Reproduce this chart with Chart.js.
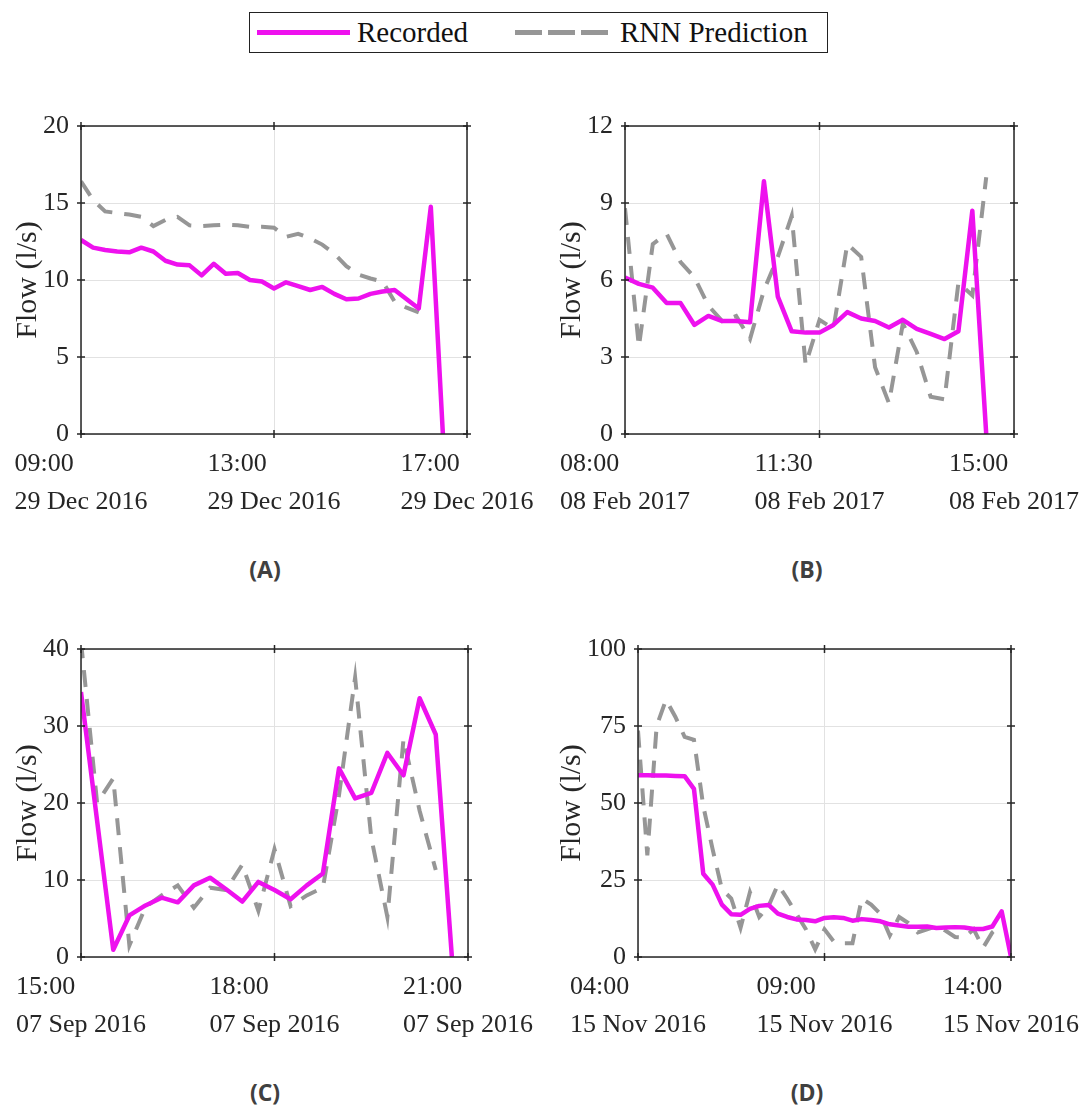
<!DOCTYPE html>
<html>
<head>
<meta charset="utf-8">
<script src="https://cdn.jsdelivr.net/npm/chart.js@4.4.1/dist/chart.umd.min.js"></script>
<style>
  html, body { margin: 0; padding: 0; background: #fff; width: 1091px; height: 1106px; overflow: hidden; }
  body { position: relative; }
  canvas { position: absolute; }
  .tag { position: absolute; width: 80px; text-align: center; font: bold 23px "Open Sans", sans-serif; line-height: 26px; color: #404040; }
  #legend { position: absolute; left: 249px; top: 12px; width: 577px; height: 39px; border: 1.5px solid #222;
            font: 29px "Liberation Serif", "Times New Roman", serif; color: #111; }
  #legend .sw { position: absolute; top: 17px; height: 5px; width: 93px; }
  #legend .lbl { position: absolute; top: 0; line-height: 39px; white-space: nowrap; }
</style>
</head>
<body>
<div id="legend">
  <div class="sw" style="left:7px;background:#ee11ee"></div>
  <span class="lbl" style="left:107px">Recorded</span>
  <div class="sw" style="left:265px;background:repeating-linear-gradient(to right,#969696 0 27px,transparent 27px 33px)"></div>
  <span class="lbl" style="left:370px">RNN Prediction</span>
</div>

<canvas id="chartA" width="620" height="450" style="left:0;top:90px"></canvas>
<canvas id="chartB" width="620" height="450" style="left:544px;top:90px"></canvas>
<canvas id="chartC" width="620" height="450" style="left:0;top:613px"></canvas>
<canvas id="chartD" width="620" height="450" style="left:544px;top:613px"></canvas>

<div class="tag" style="left:225px;top:556px">(A)</div>
<div class="tag" style="left:767px;top:556px">(B)</div>
<div class="tag" style="left:225px;top:1079px">(C)</div>
<div class="tag" style="left:767px;top:1079px">(D)</div>

<script>
// --- (A) 29 Dec 2016, 15-min samples ---
const timesA = ['09:00','09:15','09:30','09:45','10:00','10:15','10:30','10:45','11:00','11:15','11:30','11:45',
  '12:00','12:15','12:30','12:45','13:00','13:15','13:30','13:45','14:00','14:15','14:30','14:45',
  '15:00','15:15','15:30','15:45','16:00','16:15','16:30'];
const recordedA = [12.6, 12.1, 11.95, 11.85, 11.8, 12.1, 11.85, 11.25, 11.0, 10.95, 10.3, 11.05,
  10.4, 10.45, 10.0, 9.9, 9.45, 9.85, 9.6, 9.35, 9.55, 9.1, 8.75, 8.8,
  9.1, 9.25, 9.35, 8.75, 8.15, 14.75, 0];
const predictedA = [16.4, 15.2, 14.45, 14.35, 14.25, 14.1, 13.5, 13.9, 14.1, 13.55, 13.5, 13.55,
  13.6, 13.55, 13.45, 13.45, 13.4, 12.8, 13.0, 12.7, 12.3, 11.7, 10.9, 10.35,
  10.1, 9.9, 8.6, 8.2, 7.9];

// --- (B) 08 Feb 2017 ---
const timesB = ['08:00','08:15','08:30','08:45','09:00','09:15','09:30','09:45','10:00','10:15','10:30','10:45',
  '11:00','11:15','11:30','11:45','12:00','12:15','12:30','12:45','13:00','13:15','13:30','13:45',
  '14:00','14:15','14:30'];
const recordedB = [6.1, 5.85, 5.7, 5.1, 5.1, 4.25, 4.6, 4.4, 4.4, 4.35, 9.85, 5.35,
  4.0, 3.95, 3.95, 4.25, 4.75, 4.5, 4.4, 4.15, 4.45, 4.1, 3.9, 3.7,
  4.0, 8.7, 0];
const predictedB = [8.8, 3.4, 7.4, 7.8, 6.7, 6.1, 5.0, 4.4, 4.6, 3.7, 5.6, 6.9,
  8.5, 2.7, 4.45, 4.1, 7.4, 6.9, 2.6, 1.2, 4.3, 3.2, 1.45, 1.35,
  5.9, 5.4, 10.0];

// --- (C) 07 Sep 2016 ---
const timesC = ['15:00','15:15','15:30','15:45','16:00','16:15','16:30','16:45','17:00','17:15','17:30','17:45',
  '18:00','18:15','18:30','18:45','19:00','19:15','19:30','19:45','20:00','20:15','20:30','20:45'];
const recordedC = [34.4, null, 0.95, 5.4, 6.7, 7.7, 7.1, 9.3, 10.3, 8.8, 7.2, 9.75,
  8.7, 7.5, 9.3, 10.85, 24.5, 20.6, 21.3, 26.5, 23.6, 33.6, 28.9, 0];
const predictedC = [41, 20, 23.2, 1.5, 6.5, 8.0, 9.3, 6.4, 9.0, 8.7, 12.0, 6.0,
  14.0, 6.6, 8.0, 9.0, 21, 36.3, 15.5, 5.2, 28.3, 19, 11.3];

// --- (D) 15 Nov 2016 ---
const timesD = ['04:00','04:15','04:30','04:45','05:00','05:15','05:30','05:45','06:00','06:15','06:30','06:45',
  '07:00','07:15','07:30','07:45','08:00','08:15','08:30','08:45','09:00','09:15','09:30','09:45',
  '10:00','10:15','10:30','10:45','11:00','11:15','11:30','11:45','12:00','12:15','12:30','12:45',
  '13:00','13:15','13:30','13:45','14:00'];
const recordedD = [59.0, 59.0, 58.9, 58.9, 58.8, 58.7, 54.6, 27.0, 23.5, 17.0, 13.9, 13.7,
  15.6, 16.6, 16.9, 14.1, 13.0, 12.2, 12.0, 11.6, 12.7, 12.9, 12.7, 11.8,
  12.3, 12.0, 11.6, 10.6, 10.2, 9.8, 9.8, 9.9, 9.4, 9.6, 9.7, 9.6,
  9.1, 9.1, 9.9, 14.8, 0];
const predictedD = [73.5, 33, 75, 83.5, 78, 71.5, 70.5, 49, 35, 22, 19, 9.5,
  21, 13, 16.5, 23.5, 19, 14, 9, 2.5, 9, 5, 4.5, 4.5,
  19, 17, 14, 7, 13, 11, 8, 9, 10, 8.5, 6.5, 6.3,
  9, 3, 8, 10.5];

const SERIF = '"Liberation Serif", "Times New Roman", serif';
const INK = '#262626';
const TICK_SIZE = 26;

const toHours = t => { const [h, m] = t.split(':').map(Number); return h + m / 60; };
const pad2 = n => String(n).padStart(2, '0');

// box around the plot with small ticks crossing every side (matlab look)
const framePlugin = {
  id: 'frame',
  afterDraw(chart) {
    const { ctx, chartArea: a, scales: { x, y } } = chart;
    ctx.save();
    ctx.strokeStyle = INK;
    ctx.lineWidth = 1.5;
    ctx.strokeRect(a.left, a.top, a.right - a.left, a.bottom - a.top);
    ctx.beginPath();
    x.ticks.forEach(t => {
      const px = x.getPixelForValue(t.value);
      ctx.moveTo(px, a.bottom - 4); ctx.lineTo(px, a.bottom + 4);
      ctx.moveTo(px, a.top - 4); ctx.lineTo(px, a.top + 4);
    });
    y.ticks.forEach(t => {
      const py = y.getPixelForValue(t.value);
      ctx.moveTo(a.left - 4, py); ctx.lineTo(a.left + 4, py);
      ctx.moveTo(a.right - 4, py); ctx.lineTo(a.right + 4, py);
    });
    ctx.stroke();
    ctx.restore();
  }
};

const measure = document.createElement('canvas').getContext('2d');

function drawPanel(id, times, recorded, predicted, cfg) {
  const pts = vals => vals.map((v, i) => ({ x: toHours(times[i]), y: v }));
  measure.font = `${TICK_SIZE}px ${SERIF}`;
  const dateWidth = measure.measureText(cfg.date).width;

  new Chart(document.getElementById(id), {
    type: 'line',
    data: {
      datasets: [
        { label: 'Recorded', data: pts(recorded), borderColor: '#ee11ee', borderWidth: 4.5,
          pointRadius: 0, spanGaps: true, borderJoinStyle: 'round', tension: 0 },
        { label: 'RNN Prediction', data: pts(predicted), borderColor: '#969696', borderWidth: 4,
          borderDash: [17, 12], pointRadius: 0, tension: 0 }
      ]
    },
    options: {
      responsive: false,
      animation: false,
      events: [],
      layout: { padding: { left: 0, top: 36, right: cfg.padRight, bottom: 26 } },
      plugins: { legend: { display: false }, tooltip: { enabled: false } },
      scales: {
        x: {
          type: 'linear',
          min: toHours(cfg.xMin), max: toHours(cfg.xMax),
          afterFit: s => { s.height = 80; },
          grid: { color: '#e2e2e2', lineWidth: 1, drawTicks: false },
          border: { display: false },
          ticks: {
            stepSize: cfg.xStep, autoSkip: false, maxRotation: 0,
            align: 'start', labelOffset: -dateWidth / 2, padding: 11,
            color: INK, font: { family: SERIF, size: TICK_SIZE, lineHeight: 1.46 },
            callback: v => {
              const h = Math.floor(v + 1e-6), m = Math.round((v - h) * 60);
              return [pad2(h) + ':' + pad2(m), cfg.date];
            }
          }
        },
        y: {
          min: 0, max: cfg.yMax,
          afterFit: s => { s.width = cfg.yWidth; },
          grid: { color: '#e2e2e2', lineWidth: 1, drawTicks: false },
          border: { display: false },
          ticks: { stepSize: cfg.yStep, padding: 12, color: INK, font: { family: SERIF, size: TICK_SIZE } },
          title: { display: true, text: 'Flow (l/s)', color: INK, padding: { top: 10, bottom: 0 },
                   font: { family: SERIF, size: 30, lineHeight: 1.2 } }
        }
      }
    },
    plugins: [framePlugin]
  });
}

drawPanel('chartA', timesA, recordedA, predictedA,
  { xMin: '09:00', xMax: '17:00', xStep: 4, yMax: 20, yStep: 5, date: '29 Dec 2016', yWidth: 81, padRight: 153 });
drawPanel('chartB', timesB, recordedB, predictedB,
  { xMin: '08:00', xMax: '15:00', xStep: 3.5, yMax: 12, yStep: 3, date: '08 Feb 2017', yWidth: 81, padRight: 150 });
drawPanel('chartC', timesC, recordedC, predictedC,
  { xMin: '15:00', xMax: '21:00', xStep: 3, yMax: 40, yStep: 10, date: '07 Sep 2016', yWidth: 81, padRight: 152 });
drawPanel('chartD', timesD, recordedD, predictedD,
  { xMin: '04:00', xMax: '14:00', xStep: 5, yMax: 100, yStep: 25, date: '15 Nov 2016', yWidth: 94, padRight: 153 });
</script>
</body>
</html>
